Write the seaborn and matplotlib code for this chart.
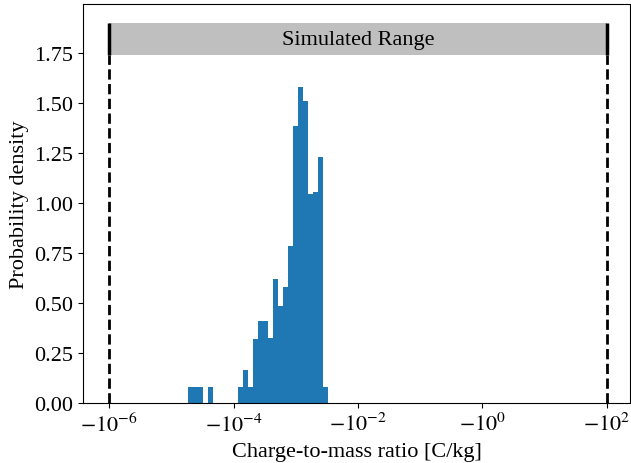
import numpy as np
import pandas as pd
import matplotlib
matplotlib.use("Agg")
import matplotlib.pyplot as plt
import seaborn as sns

# ---- data ----
# histogram bin range as log10 of |charge-to-mass ratio|
log_lo = -4.734
log_hi = -2.482
n_bins = 28
# probability density for each of the 28 bins
densities = [0.082, 0.082, 0.082, 0.0, 0.082, 0.0, 0.0, 0.0, 0.0, 0.0,
             0.082, 0.167, 0.082, 0.32, 0.41, 0.41, 0.327, 0.62, 0.487, 0.58,
             0.787, 1.387, 1.58, 1.51, 1.047, 1.057, 1.23, 0.082]
sim_range = [1e-6, 1e2]          # simulated range (magnitudes)
band_y = [1.74, 1.90]
xtick_exps = [-6, -4, -2, 0, 2]
ytick_vals = [0.0, 0.25, 0.5, 0.75, 1.0, 1.25, 1.5, 1.75]

edges = np.linspace(log_lo, log_hi, n_bins + 1)
df = pd.DataFrame({
    "ratio": 10 ** ((edges[:-1] + edges[1:]) / 2),
    "density": densities,
})

plt.rcParams["font.family"] = ["Liberation Serif", "DejaVu Serif"]
plt.rcParams["mathtext.fontset"] = "stix"
plt.rcParams["font.size"] = 16

fig, ax = plt.subplots(figsize=(6.31, 4.64), dpi=100)
fig.subplots_adjust(left=83/631, right=630/631, top=1-5/464, bottom=1-404.3/464)

sns.histplot(data=df, x="ratio", weights="density", bins=n_bins,
             binrange=(log_lo, log_hi), log_scale=True,
             stat="count", color="#1f77b4", alpha=1, linewidth=0, ax=ax)

# simulated range band
ax.fill_between(sim_range, band_y[0], band_y[1], color="#bfbfbf", linewidth=0)
for xv in sim_range:
    ax.vlines(xv, 0, band_y[0], colors="black", linestyles="--", linewidth=2)
    ax.vlines(xv, band_y[0], band_y[1], colors="black", linewidth=2.5)
ax.text(np.sqrt(sim_range[0] * sim_range[1]), np.mean(band_y), "Simulated Range",
        ha="center", va="center", fontsize=16)

ax.set_xlim(10 ** -6.423, 10 ** 2.375)
ax.set_ylim(0, 1.995)
ax.set_xticks([10.0 ** e for e in xtick_exps])
ax.set_xticklabels([r"$-10^{%d}$" % e for e in xtick_exps])
ax.xaxis.set_minor_locator(matplotlib.ticker.NullLocator())
ax.set_yticks(ytick_vals)
ax.set_yticklabels([f"{v:.2f}" for v in ytick_vals])
ax.set_xlabel("Charge-to-mass ratio [C/kg]")
ax.set_ylabel("Probability density")

fig.savefig("out.png", dpi=100)
